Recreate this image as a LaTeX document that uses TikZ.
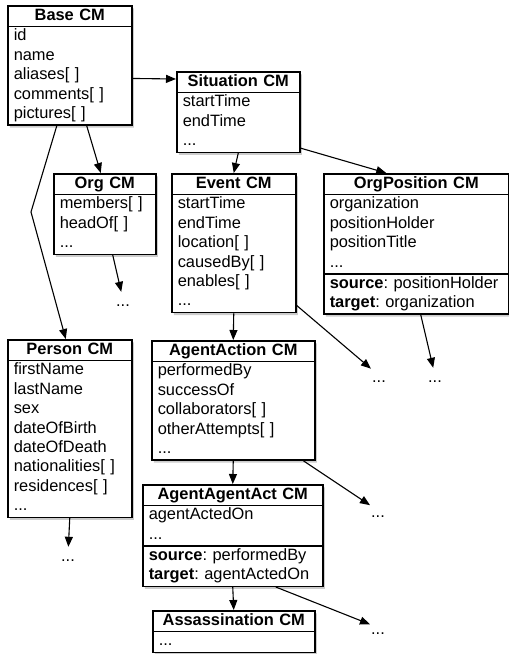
\documentclass[tikz,border=0pt]{standalone}
\usepackage{fontspec}
\setmainfont{Liberation Sans}
\usetikzlibrary{positioning, arrows.meta, shapes.multipart, shadows}
\frenchspacing
\newcommand{\cmf}[1]{\strut#1\par}

\begin{document}
\begin{tikzpicture}[x=1pt, y=-1pt,
        cmbox/.style={draw, line width=1.5pt, rectangle split, rectangle split parts=2,
            inner xsep=6pt, inner ysep=0pt, align=left, anchor=north west, fill=white,
            font=\fontsize{16.4}{19.4}\selectfont,
            drop shadow={shadow xshift=2pt, shadow yshift=-2.5pt, opacity=0.4}},
        morenode/.style={anchor=base, inner sep=1pt, text height=13pt, text depth=0pt,
            font=\fontsize{16.4}{19.4}\selectfont},
        arr/.style={line width=1.1pt, -{Triangle[length=10pt, width=8pt]}}
    ]
    \useasboundingbox (0,0) rectangle (509,654);

    \node[cmbox, text width=112pt] (base) at (7,5)
        {\centering\cmf{\textbf{Base CM}}
         \nodepart{two}\cmf{id}\cmf{name}\cmf{aliases[ ]}\cmf{comments[ ]}\cmf{pictures[ ]}};
    \node[cmbox, text width=111pt] (sit) at (176,71)
        {\centering\cmf{\textbf{Situation CM}}
         \nodepart{two}\cmf{startTime}\cmf{endTime}\cmf{...}};
    \node[cmbox, text width=90pt] (org) at (53,173)
        {\centering\cmf{\textbf{Org CM}}
         \nodepart{two}\cmf{members[ ]}\cmf{headOf[ ]}\cmf{...}};
    \node[cmbox, text width=112pt] (event) at (171,173)
        {\centering\cmf{\textbf{Event CM}}
         \nodepart{two}\cmf{startTime}\cmf{endTime}\cmf{location[ ]}\cmf{causedBy[ ]}\cmf{enables[ ]}\cmf{...}};
    \node[cmbox, rectangle split parts=3, text width=173pt] (orgpos) at (323,173)
        {\centering\cmf{\textbf{OrgPosition CM}}
         \nodepart{two}\cmf{organization}\cmf{positionHolder}\cmf{positionTitle}\cmf{...}
         \nodepart{three}\cmf{\textbf{source}: positionHolder}\cmf{\textbf{target}: organization}};
    \node[cmbox, text width=112pt] (person) at (7,339)
        {\centering\cmf{\textbf{Person CM}}
         \nodepart{two}\cmf{firstName}\cmf{lastName}\cmf{sex}\cmf{dateOfBirth}\cmf{dateOfDeath}\cmf{nationalities[ ]}\cmf{residences[ ]}\cmf{...}};
    \node[cmbox, text width=151pt] (agact) at (151,340)
        {\centering\cmf{\textbf{AgentAction CM}}
         \nodepart{two}\cmf{performedBy}\cmf{successOf}\cmf{collaborators[ ]}\cmf{otherAttempts[ ]}\cmf{...}};
    \node[cmbox, rectangle split parts=3, text width=168pt] (aaact) at (142,484)
        {\centering\cmf{\textbf{AgentAgentAct CM}}
         \nodepart{two}\cmf{agentActedOn}\cmf{...}
         \nodepart{three}\cmf{\textbf{source}: performedBy}\cmf{\textbf{target}: agentActedOn}};
    \node[cmbox, text width=150pt] (assn) at (152,610)
        {\centering\cmf{\textbf{Assassination CM}}
         \nodepart{two}\cmf{...}};

    \node[morenode] (orgmore) at (123,306) {...};
    \node[morenode] (eventmore) at (379,382) {...};
    \node[morenode] (orgposmore) at (435,382) {...};
    \node[morenode] (agactmore) at (378,517) {...};
    \node[morenode] (personmore) at (68,561) {...};
    \node[morenode] (aaactmore) at (378,634) {...};
    \coordinate (bend) at (31,212);

    \draw[arr] ([yshift=-13pt]base.east) -- ([yshift=-8pt]sit.north west);
    \draw[arr] ([xshift=17pt]base.south) -- ([xshift=-4pt]org.north);
    \draw[arr] ([xshift=-13pt]base.south) -- (bend) -- ([xshift=-4pt]person.north);
    \draw[arr] ([xshift=8pt]org.south) -- (orgmore);
    \draw[arr] (sit.south) -- (event.north);
    \draw[arr] ([yshift=5pt]sit.south east) -- ([xshift=-30pt]orgpos.north);
    \draw[arr] ([yshift=8pt]event.south east) -- (eventmore);
    \draw[arr] ([xshift=4.5pt]orgpos.south) -- (orgposmore);
    \draw[arr] (event.south) -- (agact.north);
    \draw[arr] ([xshift=-12pt]agact.south east) -- (agactmore);
    \draw[arr] (person.south) -- (personmore);
    \draw[arr] (agact.south) -- (aaact.north);
    \draw[arr] (aaact.south) -- (assn.north);
    \draw[arr] ([xshift=43pt]aaact.south) -- (aaactmore);
\end{tikzpicture}
\end{document}
